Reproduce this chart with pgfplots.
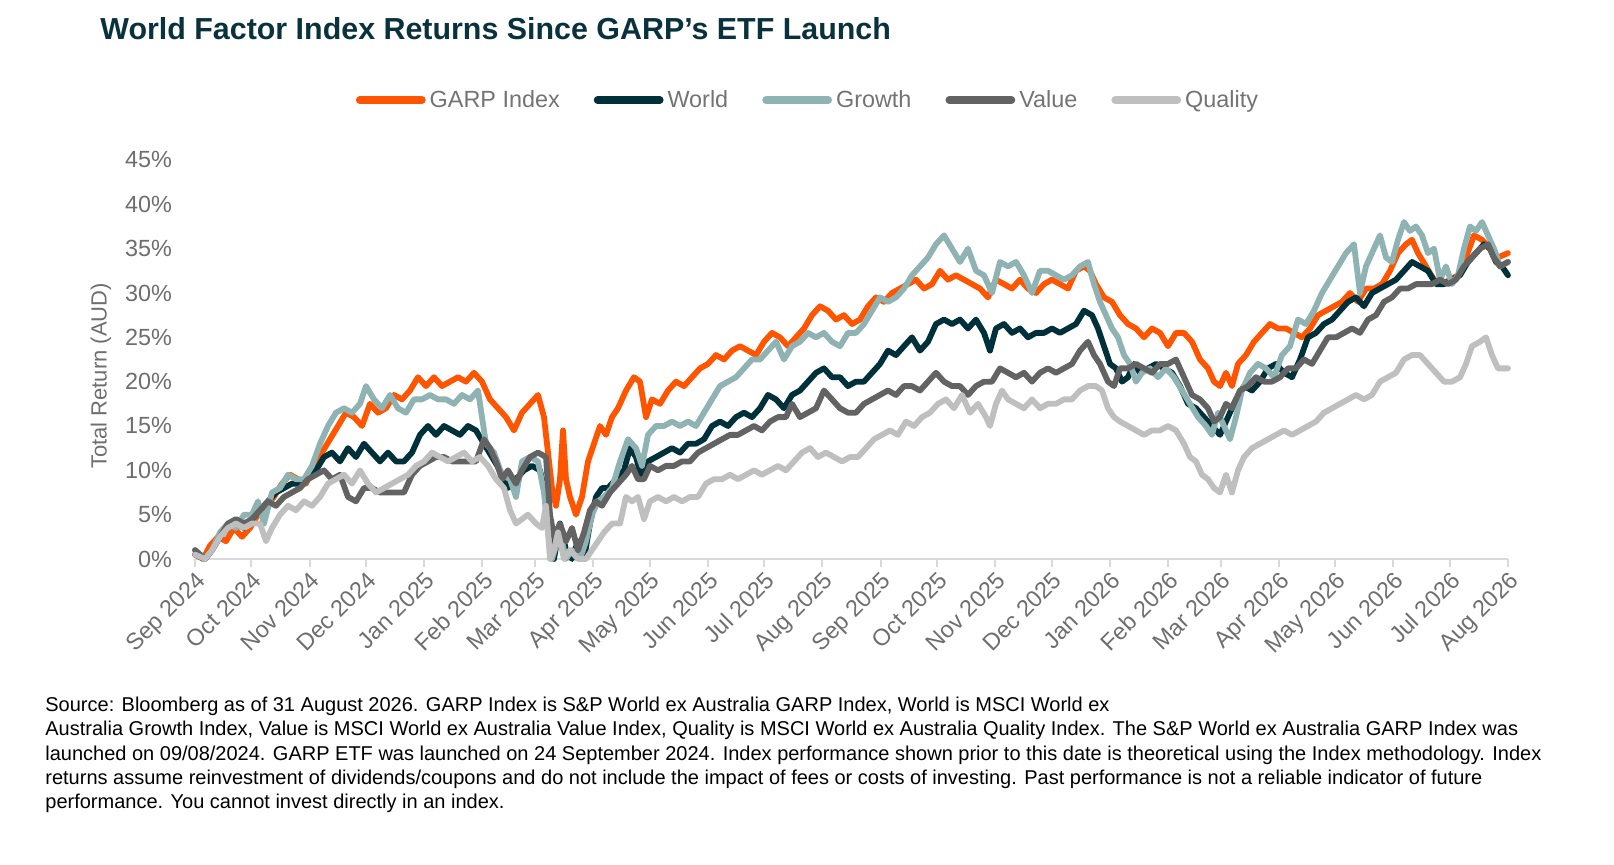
\documentclass[border=0pt]{standalone}
\usepackage{fontspec}
\setmainfont{Liberation Sans}
\usepackage{pgfplots}
\pgfplotsset{compat=1.18}
\usepackage{pgfplotstable}
\definecolor{garpc}{RGB}{255,85,0}
\definecolor{worldc}{RGB}{0,48,58}
\definecolor{growthc}{RGB}{143,178,178}
\definecolor{valuec}{RGB}{99,99,99}
\definecolor{qualityc}{RGB}{191,191,191}
\definecolor{titlec}{RGB}{10,50,60}
\definecolor{tickc}{RGB}{110,110,110}
\definecolor{legc}{RGB}{115,115,115}
\definecolor{axgray}{RGB}{217,217,217}

% t = position along the time axis as read (1 Sep 2024 = 195, 1 Aug 2026 = 1508), v = total return in %
\pgfplotstableread{
t v
195 0.5
203 0
210 1.5
218 2.5
226 2
234 3.5
242 2.5
250 3.5
258 5
266 6
274 7
282 8.5
290 9.5
298 9
306 8.5
314 10.5
322 12
330 13.5
338 15
346 16.5
354 16
362 15
370 17.5
378 16.5
386 17
394 18.5
402 18
410 19
418 20.5
426 19.5
434 20.5
442 19.5
450 20
458 20.5
466 20
474 21
482 20
490 18
498 17
506 16
514 14.5
522 16.5
530 17.5
538 18.5
544 16
548 12
552 8
556 6
560 9
563 14.5
566 9
570 7
576 5
582 7
588 11
594 13
600 15
606 14
612 16
618 17
626 19
634 20.5
640 20
646 16
652 18
660 17.5
668 19
676 20
684 19.5
692 20.5
700 21.5
708 22
716 23
724 22.5
732 23.5
740 24
748 23.5
756 23
764 24.5
772 25.5
780 25
788 24
796 25
804 26
812 27.5
820 28.5
828 28
836 27
844 27.5
852 26.5
860 27
868 28.5
876 29.5
884 29
892 30
900 30.5
908 31
916 31.5
924 30.5
932 31
940 32.5
948 31.5
956 32
964 31.5
972 31
980 30.5
988 29.5
996 31.5
1004 31
1012 30.5
1020 31.5
1028 30.5
1036 30
1044 31
1052 31.5
1060 31
1068 30.5
1076 32.5
1084 33
1090 32.5
1096 31
1104 29.5
1112 29
1120 27.5
1128 26.5
1136 26
1144 25
1152 26
1160 25.5
1168 24
1176 25.5
1184 25.5
1192 24.5
1200 22.5
1208 21.5
1214 20
1220 19.5
1226 21
1232 19.5
1238 22
1246 23
1254 24.5
1262 25.5
1270 26.5
1278 26
1286 26
1294 25.5
1302 25
1310 26
1318 27.5
1326 28
1334 28.5
1342 29
1350 30
1358 29
1366 30.5
1374 30.5
1382 31
1390 32.5
1398 34.5
1406 35.5
1412 36
1418 34.5
1426 33
1434 31.5
1442 31
1450 31.5
1458 32
1466 34
1474 36.5
1482 36
1490 35
1498 34
1508 34.5
}\garptab

\pgfplotstableread{
t v
195 0.5
205 0
212 1
220 2.5
228 3.5
236 4
244 3.5
252 4.5
260 5.5
268 6.5
276 7.5
284 8
292 8.5
300 8.5
308 9
316 10
324 11.5
332 12
340 11
348 12.5
356 11.5
364 13
372 12
380 11
388 12
396 11
404 11
412 12
420 14
428 15
436 14
444 15
452 14.5
460 14
468 15
476 14.5
484 13
492 11.5
500 10
508 8
516 9
524 10
532 10.5
540 10
546 7
550 2
554 0
560 4
566 1
572 0
578 2
584 0
590 4
596 7
602 8
608 8
616 9
624 10
630 12.5
636 11.5
642 9
648 11
656 11.5
664 12
672 12.5
680 12
688 13
696 13
704 13.5
712 15
720 15.5
728 15
736 16
744 16.5
752 16
760 17
768 18.5
776 18
784 17
792 18.5
800 19
808 20
816 21
824 21.5
832 20.5
840 20.5
848 19.5
856 20
864 20
872 21
880 22
888 23.5
896 23
904 24
912 25
920 23.5
928 24.5
936 26.5
944 27
952 26.5
960 27
968 26
976 27
984 25.5
990 23.5
996 26
1004 26.5
1012 25.5
1020 26
1028 25
1036 25.5
1044 25.5
1052 26
1060 25.5
1068 26
1076 26.5
1084 28
1092 27.5
1098 26
1104 24
1110 22
1116 21.5
1122 20
1128 20.5
1134 22
1140 21
1148 21.5
1156 22
1164 21.5
1172 21
1180 19.5
1188 17.5
1196 17
1204 16
1212 15
1220 14
1228 16
1236 18
1244 19.5
1252 19
1260 20
1268 21.5
1276 22
1284 21
1292 20.5
1300 22.5
1308 25
1316 25.5
1324 26.5
1332 27
1340 28
1348 29
1356 29.5
1364 28.5
1372 30
1380 30.5
1388 31
1396 31.5
1404 32.5
1412 33.5
1420 33
1428 32.5
1436 31
1444 31
1452 31.5
1460 32
1468 33.5
1476 34.5
1484 35.5
1490 35
1496 33.5
1502 33
1508 32
}\worldtab

\pgfplotstableread{
t v
195 1
205 0
212 1
220 3
228 4
236 3.5
244 5
252 5
258 6.5
264 4
272 7.5
280 8
288 9.5
296 9
304 9
312 10.5
320 13
328 15
336 16.5
344 17
352 16.5
360 17.5
366 19.5
374 18
382 17
390 18.5
398 17
406 16.5
414 18
422 18
430 18.5
438 18
446 18
454 17.5
462 18.5
470 18
478 19
486 13
494 12
502 9.5
510 9
516 7
522 11
530 11.5
538 11
544 7.5
548 3
552 0
560 3
566 0
572 1
580 0
586 2
592 5
598 6.5
604 7
612 8
620 11
628 13.5
636 12.5
642 10.5
648 14
656 15
664 15
672 15.5
680 15
688 15.5
696 15
704 16.5
712 18
720 19.5
728 20
736 20.5
744 21.5
752 22.5
760 22.5
768 23.5
776 24.5
784 22.5
792 24
800 24.5
808 25.5
816 25
824 25.5
832 24.5
840 24
848 25.5
856 25.5
864 26.5
872 28
880 29.5
888 29
896 29.5
904 30.5
912 32
920 33
928 34
936 35.5
944 36.5
952 35
960 33.5
968 35
976 32.5
984 32
992 30
1000 33.5
1008 33
1016 33.5
1024 32
1032 30
1040 32.5
1048 32.5
1056 32
1064 31.5
1072 32
1080 33
1088 33.5
1094 31
1100 29
1106 27.5
1112 26
1118 25
1124 23
1130 22
1136 20
1142 21
1150 21.5
1158 20.5
1166 21.5
1174 20.5
1182 19
1190 17.5
1198 16
1206 15
1212 14
1218 16.5
1224 15
1230 13.5
1236 16
1242 19
1250 21
1258 22
1266 21.5
1274 20.5
1282 23
1290 24
1298 27
1306 26.5
1314 28
1322 30
1330 31.5
1338 33
1346 34.5
1354 35.5
1360 30
1366 33
1374 35
1380 36.5
1386 34
1392 33.5
1398 36
1404 38
1410 37
1416 37.5
1422 36.5
1428 34.5
1434 35
1440 31.5
1446 33
1452 31
1458 32
1464 35
1470 37.5
1476 37
1482 38
1488 36.5
1494 35
1500 33
1508 33.5
}\growthtab

\pgfplotstableread{
t v
195 1
205 0
212 1
220 2.5
228 4
236 4.5
244 4
252 4.5
260 5.5
268 6.5
276 6
284 7
292 7.5
300 8
308 9
316 9.5
324 10
332 9
340 9.5
348 7
356 6.5
364 8
372 8
380 7.5
388 7.5
396 7.5
404 7.5
412 9.5
420 10.5
428 11
436 11.5
444 11.5
452 11
460 11
468 11
476 11
484 13.5
490 12.5
496 11
502 9
508 10
516 8.5
522 10
530 11.5
538 12
546 11.5
550 5
554 2.5
560 4
566 2
572 3.5
578 1
584 3
590 5.5
596 6.5
602 6
610 7.5
618 8.5
626 9.5
632 10.5
638 9
644 9
650 10.5
658 10
666 10.5
674 10.5
682 11
690 11
698 12
706 12.5
714 13
722 13.5
730 14
738 14
746 14.5
754 15
762 14.5
770 15.5
778 16
786 16
792 17.5
800 16
808 16.5
816 17
824 19
832 18
840 17
848 16.5
856 16.5
864 17.5
872 18
880 18.5
888 19
896 18.5
904 19.5
912 19.5
920 19
928 20
936 21
944 20
952 19.5
960 19.5
968 18.5
976 19.5
984 20
992 20
1000 21.5
1008 21
1016 20.5
1024 21
1032 20
1040 21
1048 21.5
1056 21
1064 21.5
1072 22
1080 23.5
1088 24.5
1094 23
1100 22
1108 20
1114 19.5
1120 21.5
1128 21.5
1136 22
1144 21.5
1152 21
1160 22
1168 22
1176 22.5
1184 20.5
1192 18.5
1200 18
1208 17
1214 15.5
1220 16
1226 17.5
1232 17
1240 19
1248 19.5
1256 20.5
1264 20
1272 20
1280 20.5
1288 21.5
1296 21.5
1304 22.5
1312 22
1320 23.5
1328 25
1336 25
1344 25.5
1352 26
1360 25.5
1368 27
1376 27.5
1384 29
1392 29.5
1400 30.5
1408 30.5
1416 31
1424 31
1432 31
1440 31.5
1448 31
1456 31.5
1464 33
1472 34
1480 35
1488 35.5
1494 34
1500 33
1508 33.5
}\valuetab

\pgfplotstableread{
t v
195 0.5
205 0
212 1
220 2.5
228 3.5
236 4
244 3.5
252 4
260 4
266 2
272 3.5
280 5
288 6
296 5.5
304 6.5
312 6
320 7
328 8.5
336 9
344 9.5
352 8.5
360 10
368 8.5
376 7.5
384 8
392 8.5
400 9
408 9.5
416 10.5
424 11
432 12
440 11.5
448 11
456 11.5
464 12
472 11
480 11.5
488 10.5
496 9
504 8
510 5.5
516 4
522 4.5
528 5
536 4
542 3.5
546 6
550 0
554 1
558 3
564 0
570 1
578 0
586 0
592 1
598 2
604 3
612 4
620 4
626 7
632 6.5
638 7
644 4.5
650 6.5
658 7
666 6.5
674 7
682 6.5
690 7
698 7
706 8.5
714 9
722 9
730 9.5
738 9
746 9.5
754 10
762 9.5
770 10
778 10.5
786 10
794 11
802 12
810 12.5
818 11.5
826 12
834 11.5
842 11
850 11.5
858 11.5
866 12.5
874 13.5
882 14
890 14.5
898 14
906 15.5
914 15
922 16
930 16.5
938 17.5
946 18
954 17
962 18.5
970 16.5
978 17.5
986 16
990 15
996 17.5
1002 19
1008 18
1016 17.5
1024 17
1032 18
1040 17
1048 17.5
1056 17.5
1064 18
1072 18
1080 19
1088 19.5
1096 19.5
1102 19
1108 17
1114 16
1120 15.5
1128 15
1136 14.5
1144 14
1152 14.5
1160 14.5
1168 15
1176 14.5
1184 13
1190 11.5
1196 11
1202 9.5
1208 9
1214 8
1220 7.5
1226 9.5
1232 7.5
1238 10
1244 11.5
1252 12.5
1260 13
1268 13.5
1276 14
1284 14.5
1292 14
1300 14.5
1308 15
1316 15.5
1324 16.5
1332 17
1340 17.5
1348 18
1356 18.5
1364 18
1372 18.5
1380 20
1388 20.5
1396 21
1404 22.5
1412 23
1420 23
1428 22
1436 21
1444 20
1452 20
1460 20.5
1466 22
1472 24
1480 24.5
1486 25
1492 23
1498 21.5
1508 21.5
}\qualitytab

\begin{document}
\begin{tikzpicture}
\path[use as bounding box] (0pt,0pt) rectangle (807pt,432.5pt);
\node[anchor=base west, inner sep=0pt, text=titlec, font=\bfseries\fontsize{15.2}{18}\selectfont] at (50pt,412.5pt) {World Factor Index Returns Since GARP's ETF Launch};
\begin{axis}[
  at={(97.5pt,153pt)}, anchor=south west,
  width=656.5pt, height=199.5pt, scale only axis,
  xmin=0, xmax=699, ymin=0, ymax=45,
  clip=false,
  axis x line*=bottom, axis y line*=left,
  y axis line style={draw=none},
  x axis line style={draw=axgray, line width=1pt},
  xtick={0,30,61,91,122,153,181,212,242,273,303,334,365,395,426,456,487,518,546,577,607,638,668,699},
  xticklabels={Sep 2024,Oct 2024,Nov 2024,Dec 2024,Jan 2025,Feb 2025,Mar 2025,Apr 2025,May 2025,Jun 2025,Jul 2025,Aug 2025,Sep 2025,Oct 2025,Nov 2025,Dec 2025,Jan 2026,Feb 2026,Mar 2026,Apr 2026,May 2026,Jun 2026,Jul 2026,Aug 2026},
  xtick align=outside,
  xtick style={draw=axgray, line width=1pt},
  major tick length=4pt,
  xticklabel style={rotate=45, anchor=north east, inner sep=1pt, font=\fontsize{11.7}{14}\selectfont, text=tickc},
  ytick={0,5,...,45},
  ytick style={draw=none},
  ytick align=inside,
  yticklabel={\pgfmathprintnumber{\tick}\%},
  yticklabel style={anchor=east, xshift=-8pt, font=\fontsize{11.7}{14}\selectfont, text=tickc},
  /pgf/number format/assume math mode=true,
  ylabel={Total Return (AUD)},
  ylabel style={at={(axis description cs:-0.0716,0.4586)}, anchor=center, font=\fontsize{11}{13}\selectfont, text=tickc},
  legend columns=5,
  legend style={at={(0.4676,1.15)}, anchor=center, draw=none, fill=none,
    font=\fontsize{11.7}{14}\selectfont, text=legc,
    /tikz/every even column/.append style={column sep=15pt}},
  legend image code/.code={\draw[#1, line width=3.8pt, line cap=round] (1.9pt,0pt) -- (33pt,0pt);},
  every axis plot/.append style={line width=2.9pt, line join=round, line cap=round},
]
\addplot[garpc] table[x expr={(\thisrow{t}-195)/1.8784}, y=v] {\garptab};
\addlegendentry{GARP Index}
\addplot[worldc] table[x expr={(\thisrow{t}-195)/1.8784}, y=v] {\worldtab};
\addlegendentry{World}
\addplot[growthc] table[x expr={(\thisrow{t}-195)/1.8784}, y=v] {\growthtab};
\addlegendentry{Growth}
\addplot[valuec] table[x expr={(\thisrow{t}-195)/1.8784}, y=v] {\valuetab};
\addlegendentry{Value}
\addplot[qualityc] table[x expr={(\thisrow{t}-195)/1.8784}, y=v] {\qualitytab};
\addlegendentry{Quality}
\end{axis}
\node[anchor=base west, align=left, inner sep=0pt, font=\fontsize{10}{12.2}\selectfont] at (22.5pt,28pt) {Source: Bloomberg as of 31 August 2026. GARP Index is S\&P World ex Australia GARP Index, World is MSCI World ex\\
Australia Growth Index, Value is MSCI World ex Australia Value Index, Quality is MSCI World ex Australia Quality Index. The S\&P World ex Australia GARP Index was\\
launched on 09/08/2024. GARP ETF was launched on 24 September 2024. Index performance shown prior to this date is theoretical using the Index methodology. Index\\
returns assume reinvestment of dividends/coupons and do not include the impact of fees or costs of investing. Past performance is not a reliable indicator of future\\
performance. You cannot invest directly in an index.};
\end{tikzpicture}
\end{document}
